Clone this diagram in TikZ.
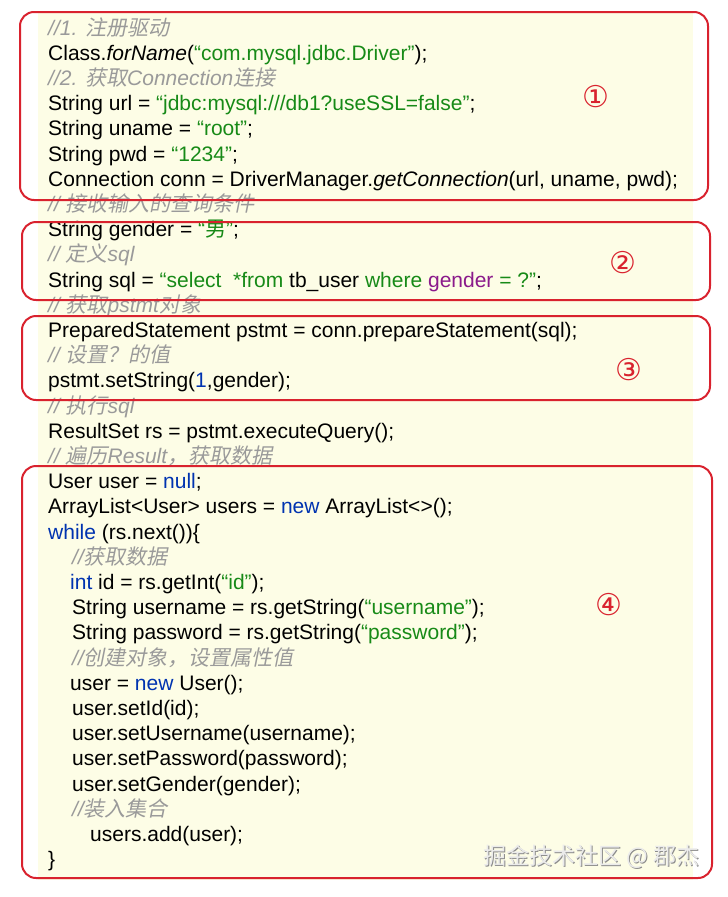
\documentclass[tikz,border=0pt]{standalone}
\usepackage{fontspec}
\setmainfont{Liberation Sans}
\newfontfamily\cjk{Noto Sans CJK SC}
\newfontfamily\cjki[FakeSlant=0.2]{Noto Sans CJK SC}
\newfontfamily\dejavu{DejaVu Sans}
\definecolor{bgy}{HTML}{FDFDE6}
\definecolor{bred}{HTML}{D9222E}
\definecolor{cgreen}{HTML}{178A17}
\definecolor{cblue}{HTML}{0033B0}
\definecolor{cpurp}{HTML}{8B1A8B}
\definecolor{cgray}{HTML}{9A9A9A}
\newcommand{\cm}[1]{\textcolor{cgray}{\itshape #1}}
\newcommand{\zh}[1]{{\cjki #1}}
\newcommand{\gs}[1]{\textcolor{cgreen}{#1}}
\newcommand{\kw}[1]{\textcolor{cblue}{#1}}
\begin{document}
\begin{tikzpicture}[x=1pt,y=-1pt,
  code/.style={anchor=base west,inner sep=0pt,font=\fontsize{21}{21}\selectfont},
  redbox/.style={draw=bred,line width=2pt,rounded corners=14pt},
  num/.style={text=bred,font=\dejavu\fontsize{30}{30}\selectfont}]
\useasboundingbox (0,0) rectangle (728,897);
\fill[bgy] (38,12) rectangle (693,880);
\def\L#1#2#3{\node[code] (l#1) at (#2,{35+(#1-1)*25.2}) {#3};}
\L{1}{48}{\cm{//1. \zh{注册驱动}}}
\L{2}{48}{Class.\textit{forName}(\gs{“com.mysql.jdbc.Driver”});}
\L{3}{48}{\cm{//2. \zh{获取}Connection\zh{连接}}}
\L{4}{48}{String url = \gs{“jdbc:mysql:///db1?useSSL=false”};}
\L{5}{48}{String uname = \gs{“root”};}
\L{6}{48}{String pwd = \gs{“1234”};}
\L{7}{48}{Connection conn = DriverManager.\textit{getConnection}(url, uname, pwd);}
\L{8}{48}{\cm{// \zh{接收输入的查询条件}}}
\L{9}{48}{String gender = \gs{“{\cjk 男}”};}
\L{10}{48}{\cm{// \zh{定义}sql}}
\L{11}{48}{String sql = \gs{“select\ \ *from} tb\_user \gs{where} \textcolor{cpurp}{gender} \gs{= ?”};}
\L{12}{48}{\cm{// \zh{获取}pstmt\zh{对象}}}
\L{13}{48}{PreparedStatement pstmt = conn.prepareStatement(sql);}
\L{14}{48}{\cm{// \zh{设置？的值}}}
\L{15}{48}{pstmt.setString(\kw{1},gender);}
\L{16}{48}{\cm{// \zh{执行}sql}}
\L{17}{48}{ResultSet rs = pstmt.executeQuery();}
\L{18}{48}{\cm{// \zh{遍历}Result\zh{，获取数据}}}
\L{19}{48}{User user = \kw{null};}
\L{20}{48}{ArrayList<User> users = \kw{new} ArrayList<>();}
\L{21}{48}{\kw{while} (rs.next()){\char`\{}}
\L{22}{72}{\cm{//\zh{获取数据}}}
\L{23}{70}{\kw{int} id = rs.getInt(\gs{“id”});}
\L{24}{72}{String username = rs.getString(\gs{“username”});}
\L{25}{72}{String password = rs.getString(\gs{“password”});}
\L{26}{72}{\cm{//\zh{创建对象，设置属性值}}}
\L{27}{70}{user = \kw{new} User();}
\L{28}{72}{user.setId(id);}
\L{29}{72}{user.setUsername(username);}
\L{30}{72}{user.setPassword(password);}
\L{31}{72}{user.setGender(gender);}
\L{32}{72}{\cm{//\zh{装入集合}}}
\L{33}{90}{users.add(user);}
\L{34}{48}{{\char`\}}}
\draw[redbox] (20,12) rectangle (708,200);
\draw[redbox] (22,222) rectangle (710,300);
\draw[redbox] (22,316) rectangle (710,400);
\draw[redbox] (22,466) rectangle (712,878);
\node[num] (n1) at (596,97) {①};
\node[num] (n2) at (623,263) {②};
\node[num] (n3) at (629,370) {③};
\node[num] (n4) at (609,605) {④};
\node[anchor=east,text=black!45,font=\cjk\fontsize{23}{23}\selectfont] at (704,858) {掘金技术社区 @ 郡杰};
\node[anchor=east,text=black!8,font=\cjk\fontsize{23}{23}\selectfont] (wm) at (703,857) {掘金技术社区 @ 郡杰};
\end{tikzpicture}
\end{document}
